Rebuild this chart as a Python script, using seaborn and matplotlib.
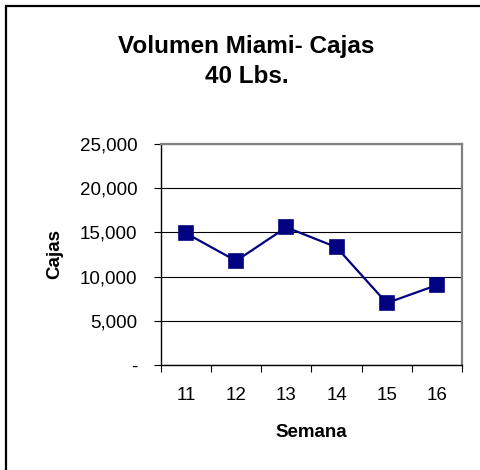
import matplotlib
matplotlib.use('Agg')
import matplotlib.pyplot as plt
import seaborn as sns
from matplotlib.patches import Rectangle

# Weekly box volume, Miami (40 lb boxes)
semanas = ['11', '12', '13', '14', '15', '16']
cajas = [14900, 11770, 15560, 13310, 7000, 9030]
y_ticks = [0, 5000, 10000, 15000, 20000, 25000]
y_labels = ['-', '5,000', '10,000', '15,000', '20,000', '25,000']

sns.set_style('white')
plt.rcParams['font.family'] = ['Liberation Sans', 'DejaVu Sans']
plt.rcParams['text.color'] = 'black'
plt.rcParams['axes.labelcolor'] = 'black'
plt.rcParams['xtick.color'] = 'black'
plt.rcParams['ytick.color'] = 'black'

fig = plt.figure(figsize=(4.8, 4.7), dpi=100)
ax = fig.add_axes([0.335, 0.2234, 0.6275, 0.4706])

sns.pointplot(x=semanas, y=cajas, color='#000080', marker='s',
              markersize=10, linewidth=1.6, errorbar=None, ax=ax)

ax.set_ylim(0, 25000)
ax.set_xlim(-0.5, len(semanas) - 0.5)
ax.set_yticks(y_ticks)
ax.set_yticklabels(y_labels, fontsize=13.5)
ax.yaxis.grid(True, color='black', linewidth=0.8)
ax.set_axisbelow(True)

# excel-style ticks between categories
ax.set_xticks([i + 0.5 for i in range(-1, len(semanas))], minor=False)
ax.set_xticklabels([])
ax.set_xticks(range(len(semanas)), minor=True)
ax.set_xticklabels(semanas, minor=True, fontsize=13.5)
ax.tick_params(axis='x', which='major', direction='out', length=5, width=0.8, color='black', bottom=True)
ax.tick_params(axis='x', which='minor', length=0, pad=16)
ax.tick_params(axis='y', direction='out', length=5, width=0.8, color='black', left=True, pad=12)

for side in ['left', 'bottom']:
    ax.spines[side].set_color('black')
    ax.spines[side].set_linewidth(1.0)
for side in ['top', 'right']:
    ax.spines[side].set_visible(True)
    ax.spines[side].set_color('#808080')
    ax.spines[side].set_linewidth(1.6)

ax.set_xlabel('Semana', fontsize=13.5, fontweight='bold', labelpad=14)
ax.set_ylabel('Cajas', fontsize=13.5, fontweight='bold', labelpad=12)

fig.text(0.5135, 0.87, 'Volumen Miami- Cajas\n40 Lbs.', ha='center', va='center',
         fontsize=17.5, fontweight='bold', linespacing=1.4)

# outer chart border (top and left visible)
fig.patches.append(Rectangle((6 / 480, -0.1), 1.2, 1 - 6 / 470 + 0.1, transform=fig.transFigure,
                             fill=False, edgecolor='black', linewidth=1.6))

fig.savefig('out.png', dpi=100)
